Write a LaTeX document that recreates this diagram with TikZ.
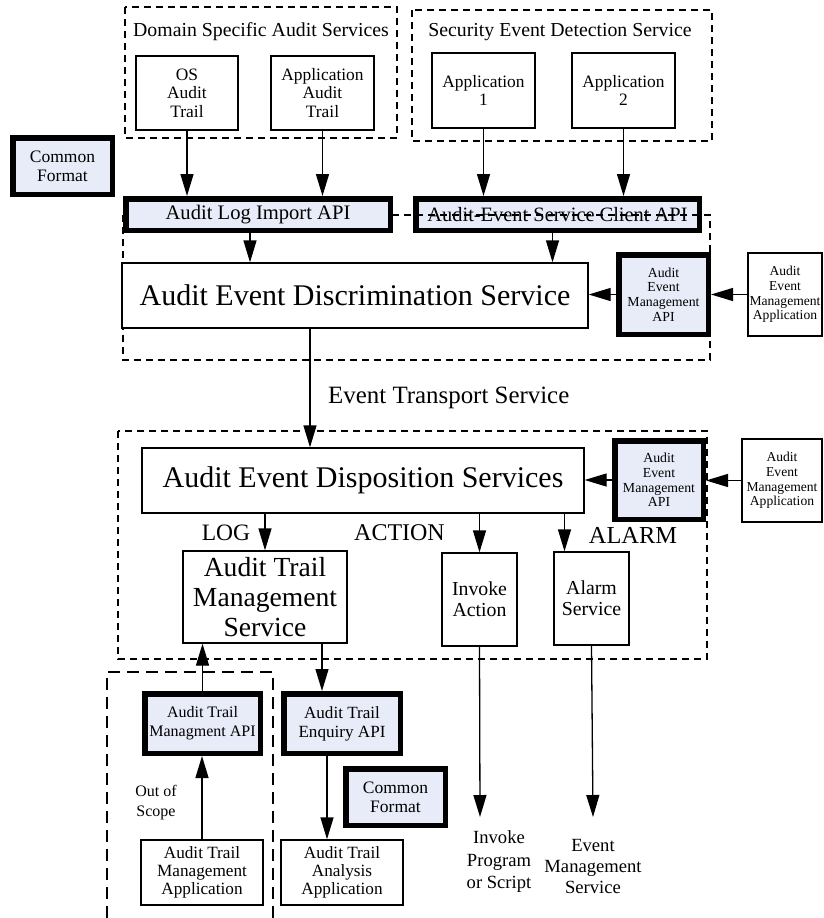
\documentclass[tikz,border=0pt]{standalone}
\usepackage{fontspec}
\setmainfont{Liberation Serif}
\usetikzlibrary{arrows.meta}
\definecolor{apifill}{RGB}{232,236,248}
\newcommand{\setfs}[2]{\fontsize{#1}{#2}\selectfont}

\begin{document}
\begin{tikzpicture}[x=1pt,y=-1pt,
    box/.style={draw, line width=1.3pt, fill=white, align=center, inner sep=0pt},
    apibox/.style={draw, line width=5.5pt, fill=apifill, align=center, inner sep=0pt},
    zone/.style={line width=1.8pt, dash pattern=on 7pt off 5pt},
    flow/.style={line width=1.3pt, -{Triangle[length=22pt,width=13pt]}},
    lbl/.style={inner sep=0pt, align=center}]
    \useasboundingbox (0,0) rectangle (823,918);

    % Zone tratteggiate
    \draw[zone] (125,7) rectangle (397,138);
    \draw[zone] (412,10) rectangle (712,141);
    \draw[zone] (118,431) rectangle (707,659);
    \draw[line width=1.8pt, dash pattern=on 12pt off 7pt] (107,918) -- (107,672) -- (273,672) -- (273,918);

    % Servizi in alto
    \node[lbl, font=\setfs{19.8pt}{22pt}] (dsas) at (261,32) {Domain Specific Audit Services};
    \node[lbl, font=\setfs{19.8pt}{22pt}] (seds) at (560,32) {Security Event Detection Service};
    \node[box, minimum width=102pt, minimum height=74pt, font=\setfs{17.4pt}{18.5pt}] (osat) at (187,93) {OS\\Audit\\Trail};
    \node[box, minimum width=103pt, minimum height=74pt, font=\setfs{17.4pt}{18.5pt}] (appat) at (322.5,93) {Application\\Audit\\Trail};
    \node[box, minimum width=103pt, minimum height=75pt, font=\setfs{17.4pt}{18.5pt}] (appa) at (483.5,90.5) {Application\\1};
    \node[box, minimum width=103pt, minimum height=75pt, font=\setfs{17.4pt}{18.5pt}] (appb) at (623.5,90.5) {Application\\2};
    \node[apibox, minimum width=99.5pt, minimum height=56.5pt, font=\setfs{17.5pt}{19pt}] (cfa) at (62.5,166) {Common\\Format};

    % Discriminazione
    \node[apibox, minimum width=283.5pt, minimum height=31.5pt, font=\setfs{20.4pt}{22pt}] (clientapi) at (557.5,214.5) {Audit-Event Service Client API};
    \draw[zone] (123,215) rectangle (710,360);
    \node[apibox, minimum width=264.5pt, minimum height=31.5pt, font=\setfs{20.6pt}{22pt}] (logapi) at (258,214.5) {Audit Log Import API};
    \node[box, minimum width=466pt, minimum height=65pt, font=\setfs{30pt}{32pt}] (discr) at (355,295.5) {Audit Event Discrimination Service};
    \node[apibox, minimum width=89.5pt, minimum height=79.5pt, font=\setfs{13.8pt}{14.7pt}] (aemapia) at (663.5,294.5) {Audit\\Event\\Management\\API};
    \node[box, minimum width=74pt, minimum height=83pt, font=\setfs{13.6pt}{14.7pt}] (aemappa) at (785,294.5) {Audit\\Event\\Management\\Application};
    \node[lbl, anchor=west, font=\setfs{24.9pt}{26pt}] (transport) at (328,398) {Event Transport Service};

    % Disposizione
    \node[box, minimum width=442pt, minimum height=65pt, font=\setfs{30pt}{32pt}] (dispo) at (363,480.5) {Audit Event Disposition Services};
    \node[apibox, minimum width=88.5pt, minimum height=78.5pt, font=\setfs{13.8pt}{14.7pt}] (aemapib) at (659,480) {Audit\\Event\\Management\\API};
    \node[box, minimum width=80pt, minimum height=83pt, font=\setfs{13.6pt}{14.7pt}] (aemappb) at (782,480.5) {Audit\\Event\\Management\\Application};
    \node[lbl, font=\setfs{23.5pt}{25pt}] (loglbl) at (226,533) {LOG};
    \node[lbl, font=\setfs{24pt}{25pt}] (actlbl) at (399.5,533) {ACTION};
    \node[lbl, font=\setfs{24.4pt}{25pt}] (alarmlbl) at (633,535) {ALARM};
    \node[box, minimum width=164pt, minimum height=92pt, font=\setfs{27.6pt}{30pt}] (atms) at (265,597) {Audit Trail\\Management\\Service};
    \node[box, minimum width=75pt, minimum height=93pt, font=\setfs{19.8pt}{21pt}] (invoke) at (479.5,599.5) {Invoke\\Action};
    \node[box, minimum width=75pt, minimum height=93pt, font=\setfs{19.8pt}{21pt}] (alarm) at (591.5,598.5) {Alarm\\Service};

    % Parte bassa
    \node[apibox, minimum width=115.5pt, minimum height=59.5pt, font=\setfs{16pt}{19pt}] (atmapi) at (202.5,723.5) {Audit Trail\\Managment API};
    \node[apibox, minimum width=116.5pt, minimum height=59.5pt, font=\setfs{17.1pt}{19pt}] (enqapi) at (342,723.5) {Audit Trail\\Enquiry API};
    \node[apibox, minimum width=99.5pt, minimum height=56.5pt, font=\setfs{17.5pt}{19pt}] (cfb) at (395.5,797) {Common\\Format};
    \node[box, minimum width=122pt, minimum height=65pt, font=\setfs{17.2pt}{18pt}] (atmapp) at (202,872.5) {Audit Trail\\Management\\Application};
    \node[box, minimum width=122pt, minimum height=65pt, font=\setfs{17.2pt}{18pt}] (ataapp) at (342,872.5) {Audit Trail\\Analysis\\Application};
    \node[lbl, font=\setfs{16pt}{20pt}] (scope) at (156,803) {Out of\\Scope};
    \node[lbl, font=\setfs{18.6pt}{22.5pt}] (invprog) at (499,862) {Invoke\\Program\\or Script};
    \node[lbl, font=\setfs{18.6pt}{21pt}] (evmgmt) at (593,866) {Event\\Management\\Service};
    \coordinate (invend) at (480,817);
    \coordinate (alarmend) at (593,817);

    % Frecce
    \draw[flow] (osat.south) -- (osat.south |- logapi.north);
    \draw[flow] (appat.south) -- (appat.south |- logapi.north);
    \draw[flow] (appa.south) -- (appa.south |- clientapi.north);
    \draw[flow] (appb.south) -- (appb.south |- clientapi.north);
    \draw[flow] ([xshift=-8pt]logapi.south) -- ([xshift=-8pt]logapi.south |- discr.north);
    \draw[flow] ([xshift=-5pt]clientapi.south) -- ([xshift=-5pt]clientapi.south |- discr.north);
    \draw[flow] (aemappa.west) -- (aemappa.west -| aemapia.east);
    \draw[flow] (aemapia.west) -- (aemapia.west -| discr.east);
    \draw[flow] ([xshift=-45pt]discr.south) -- ([xshift=-45pt]discr.south |- dispo.north);
    \draw[flow] (aemappb.west) -- (aemappb.west -| aemapib.east);
    \draw[flow] (aemapib.west) -- (aemapib.west -| dispo.east);
    \draw[flow] (atms.north |- dispo.south) -- (atms.north);
    \draw[flow] (invoke.north |- dispo.south) -- (invoke.north);
    \draw[flow] ([xshift=-27pt]alarm.north |- dispo.south) -- ([xshift=-27pt]alarm.north);
    \draw[flow] (invoke.south) -- (invend);
    \draw[flow] (alarm.south) -- (alarmend);
    \draw[flow] (atmapi.north) -- (atmapi.north |- atms.south);
    \draw[flow] ([xshift=-20pt]enqapi.north |- atms.south) -- ([xshift=-20pt]enqapi.north);
    \draw[flow] ([xshift=-15pt]enqapi.south) -- ([xshift=-15pt]enqapi.south |- ataapp.north);
    \draw[flow] (atmapp.north) -- (atmapp.north |- atmapi.south);
  \end{tikzpicture}
\end{document}
